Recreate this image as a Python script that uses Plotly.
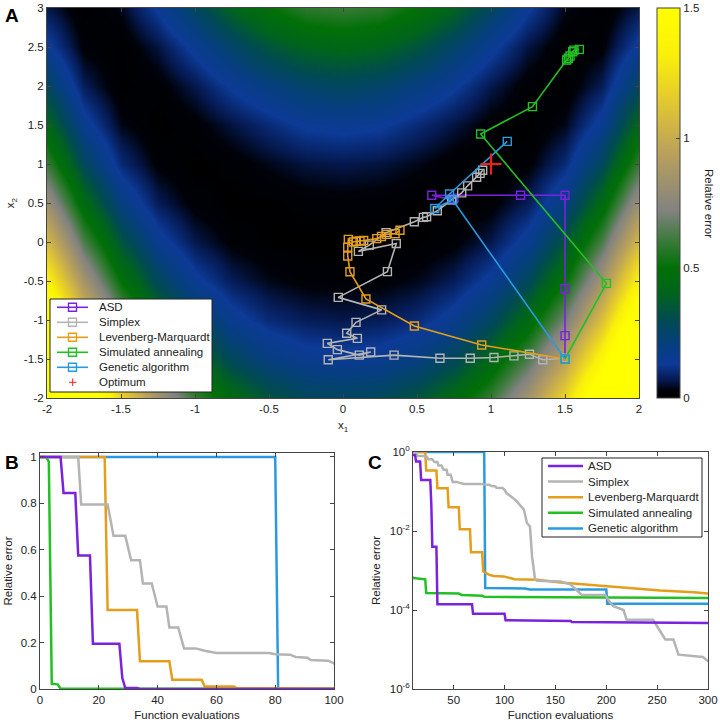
import plotly.graph_objects as go

# ---------------- Panel A : background surface ----------------
GRID_X1 = [-2, -1.75, -1.5, -1.25, -1, -0.75, -0.5, -0.25, 0, 0.25, 0.5, 0.75, 1, 1.25, 1.5, 1.75, 2]
GRID_X2 = [-2, -1.5, -1, -0.5, 0, 0.5, 1, 1.5, 2, 2.5, 3]
GRID_ERR = [
    [2.4, 1.71, 1.2, 0.85, 0.6, 0.44, 0.34, 0.28, 0.27, 0.28, 0.34, 0.44, 0.6, 0.85, 1.2, 1.71, 2.4],
    [2.02, 1.39, 0.94, 0.63, 0.42, 0.28, 0.2, 0.16, 0.15, 0.16, 0.2, 0.28, 0.42, 0.63, 0.94, 1.39, 2.02],
    [1.67, 1.1, 0.7, 0.44, 0.27, 0.16, 0.1, 0.075, 0.067, 0.075, 0.1, 0.16, 0.27, 0.44, 0.7, 1.1, 1.67],
    [1.35, 0.85, 0.5, 0.28, 0.15, 0.075, 0.038, 0.021, 0.017, 0.021, 0.038, 0.075, 0.15, 0.28, 0.5, 0.85, 1.35],
    [1.07, 0.63, 0.34, 0.16, 0.067, 0.021, 0.004, 0.0003, 0, 0.0003, 0.004, 0.021, 0.067, 0.16, 0.34, 0.63, 1.07],
    [0.82, 0.44, 0.2, 0.075, 0.017, 0.0003, 0.004, 0.013, 0.017, 0.013, 0.004, 0.0003, 0.017, 0.075, 0.2, 0.44, 0.82],
    [0.6, 0.28, 0.1, 0.021, 0, 0.013, 0.038, 0.059, 0.067, 0.059, 0.038, 0.013, 0, 0.021, 0.1, 0.28, 0.6],
    [0.42, 0.16, 0.038, 0.0003, 0.017, 0.059, 0.1, 0.14, 0.15, 0.14, 0.1, 0.059, 0.017, 0.0003, 0.038, 0.16, 0.42],
    [0.27, 0.075, 0.004, 0.013, 0.067, 0.14, 0.2, 0.25, 0.27, 0.25, 0.2, 0.14, 0.067, 0.013, 0.004, 0.075, 0.27],
    [0.15, 0.021, 0.004, 0.059, 0.15, 0.25, 0.34, 0.4, 0.42, 0.4, 0.34, 0.25, 0.15, 0.059, 0.004, 0.021, 0.15],
    [0.067, 0.0003, 0.038, 0.14, 0.27, 0.4, 0.5, 0.58, 0.6, 0.58, 0.5, 0.4, 0.27, 0.14, 0.038, 0.0003, 0.067],
]

# ---------------- Panel A : optimisation paths ----------------
ASD_X1 = [1.5, 1.5, 1.5, 1.5, 1.2, 0.6, 0.74, 0.75]
ASD_X2 = [-1.5, -1.2, -0.6, 0.6, 0.6, 0.6, 0.54, 0.56]

SIMPLEX_X1 = [1.5, 1.35, 1.26, 1.155, 1.02, 0.86, 0.655, 0.345, -0.10, 0.187, 0.11, -0.038, -0.106,
              0.097, 0.025, 0.088, 0.261, -0.032, 0.30, 0.36, 0.104, 0.178, 0.291, 0.482, 0.543,
              0.565, 0.637, 0.734, 0.802, 0.842, 0.903, 0.926, 0.944]
SIMPLEX_X2 = [-1.49, -1.51, -1.44, -1.46, -1.48, -1.49, -1.49, -1.45, -1.51, -1.41, -1.45, -1.38, -1.30,
              -1.235, -1.17, -1.03, -0.87, -0.71, -0.38, -0.02, -0.12, -0.04, 0.12, 0.26, 0.316,
              0.324, 0.40, 0.54, 0.63, 0.72, 0.83, 0.88, 0.92]

LM_X1 = [1.5, 0.937, 0.482, 0.155, 0.047, 0.032, 0.032, 0.036, 0.07, 0.09, 0.115, 0.14, 0.228, 0.26, 0.295, 0.352, 0.385]
LM_X2 = [-1.5, -1.32, -1.077, -0.731, -0.381, -0.179, -0.068, 0.034, 0.0, 0.01, 0.013, 0.02, 0.043, 0.07, 0.098, 0.107, 0.15]

SA_X1 = [1.5, 1.78, 0.93, 1.28, 1.511, 1.522, 1.534, 1.552, 1.561, 1.597]
SA_X2 = [-1.5, -0.53, 1.385, 1.735, 2.333, 2.355, 2.385, 2.44, 2.46, 2.47]

GA_X1 = [1.5, 0.74, 0.62, 0.72, 1.11]
GA_X2 = [-1.5, 0.54, 0.43, 0.615, 1.29]

OPT_X1 = [1.0]
OPT_X2 = [1.0]

# ---------------- Panels B and C : relative error vs function evaluations ----------------
ASD_EVALS = [0, 7, 8, 12, 13, 17, 18, 27, 28, 29, 33, 34, 68, 69, 100, 101, 165, 166, 300]
ASD_ERR = [1, 1, 0.845, 0.845, 0.575, 0.575, 0.195, 0.195, 0.047, 0.004, 0.004, 1.4e-4, 1.4e-4,
           8e-5, 8e-5, 5.5e-5, 5.3e-5, 5e-5, 4.7e-5]

SIMPLEX_EVALS = [0, 13, 14, 23, 25, 29, 31, 34, 35, 38, 40, 43, 44, 47, 49, 53, 56, 58, 60, 78, 80, 85,
                 87, 91, 92, 98, 100, 102, 108, 112, 116, 119, 122, 125, 127, 130, 132, 155, 165, 176,
                 199, 202, 207, 217, 220, 246, 251, 258, 266, 271, 295, 300]
SIMPLEX_ERR = [1, 1, 0.795, 0.795, 0.66, 0.66, 0.555, 0.555, 0.455, 0.455, 0.355, 0.355, 0.265, 0.265,
               0.175, 0.175, 0.165, 0.16, 0.155, 0.155, 0.15, 0.148, 0.138, 0.135, 0.125, 0.122, 0.11,
               0.09, 0.07, 0.056, 0.042, 0.035, 0.016, 0.013, 2.3e-3, 5.9e-4, 5.5e-4, 5.3e-4, 4.4e-4,
               2.4e-4, 2.4e-4, 1.8e-4, 1.25e-4, 1.0e-4, 5.7e-5, 5.7e-5, 3.5e-5, 1.8e-5, 1.8e-5,
               7.4e-6, 6.5e-6, 5e-6]

LM_EVALS = [0, 22, 23, 33, 34, 44, 45, 55, 56, 66, 67, 78, 79, 84, 89, 99, 110, 132, 155, 188, 220, 253, 286, 300]
LM_ERR = [1, 1, 0.34, 0.34, 0.12, 0.12, 0.04, 0.04, 0.011, 0.011, 2.9e-3, 2.9e-3, 9.5e-4, 8e-4,
          7.3e-4, 7.1e-4, 6e-4, 5.8e-4, 5e-4, 4.2e-4, 3.6e-4, 3.1e-4, 2.8e-4, 2.6e-4]

SA_EVALS = [0, 2, 3, 4, 6, 7, 10, 22, 23, 55, 58, 78, 80, 300]
SA_ERR = [1, 1, 0.98, 0.022, 0.02, 8e-4, 6.5e-4, 6e-4, 2.7e-4, 2.6e-4, 2.4e-4, 2.3e-4, 2.15e-4, 2e-4]

GA_EVALS = [0, 80, 81, 120, 125, 200, 201, 300]
GA_ERR = [1, 1, 3.6e-4, 3.5e-4, 3.3e-4, 3.3e-4, 1.45e-4, 1.45e-4]

NAMES = ["ASD", "Simplex", "Levenberg-Marquardt", "Simulated annealing", "Genetic algorithm"]
OPT_NAME = "Optimum"
COLORS = ["#7B22DD", "#B4B4B4", "#E49E1C", "#22C022", "#2A9AE0"]
OPT_COLOR = "#FF1A1A"

COLORSCALE = [
    [0.0, "rgb(0,0,0)"],
    [0.02, "rgb(0,2,10)"],
    [0.047, "rgb(5,26,82)"],
    [0.087, "rgb(12,58,150)"],
    [0.133, "rgb(6,62,128)"],
    [0.2, "rgb(0,74,82)"],
    [0.267, "rgb(0,100,28)"],
    [0.333, "rgb(0,112,6)"],
    [0.4, "rgb(55,122,55)"],
    [0.48, "rgb(130,130,128)"],
    [0.633, "rgb(187,162,90)"],
    [0.767, "rgb(228,202,45)"],
    [0.88, "rgb(250,240,10)"],
    [1.0, "rgb(255,255,0)"],
]

W, H = 720, 724
FONT = "Liberation Sans, Arial, sans-serif"
FS = 11.5
AXC = "#444444"
TXT = "#222222"


def px(v):
    return v / W


def py(v):
    return 1 - v / H


fig = go.Figure()

fig.add_trace(go.Heatmap(
    x=GRID_X1, y=GRID_X2, z=GRID_ERR, zsmooth="best", zmin=0, zmax=1.5,
    colorscale=COLORSCALE, xaxis="x", yaxis="y", hoverinfo="skip",
    colorbar=dict(
        x=px(657), xanchor="left", y=py(8), yanchor="top",
        len=390 / H, lenmode="fraction", thickness=23, thicknessmode="pixels",
        xpad=0, ypad=0, outlinewidth=1, outlinecolor=AXC,
        tickvals=[0, 0.5, 1, 1.5], ticktext=["0", "0.5", "1", "1.5"],
        ticks="inside", ticklen=4, tickcolor=AXC,
        tickfont=dict(family=FONT, size=FS, color=TXT),
    ),
))

paths = [(ASD_X1, ASD_X2), (SIMPLEX_X1, SIMPLEX_X2), (LM_X1, LM_X2), (SA_X1, SA_X2), (GA_X1, GA_X2)]
for (xs, ys), name, col in zip(paths, NAMES, COLORS):
    fig.add_trace(go.Scatter(
        x=xs, y=ys, mode="lines+markers", name=name, xaxis="x", yaxis="y",
        line=dict(color=col, width=1.6), showlegend=False,
        marker=dict(symbol="square-open", size=8, color=col, line=dict(width=1.4, color=col)),
    ))
fig.add_trace(go.Scatter(
    x=OPT_X1, y=OPT_X2, mode="markers", name=OPT_NAME, xaxis="x", yaxis="y", showlegend=False,
    marker=dict(symbol="cross-thin", size=15, color=OPT_COLOR, line=dict(width=2.2, color=OPT_COLOR)),
))

series = [(ASD_EVALS, ASD_ERR), (SIMPLEX_EVALS, SIMPLEX_ERR), (LM_EVALS, LM_ERR),
          (SA_EVALS, SA_ERR), (GA_EVALS, GA_ERR)]
draw_order = [4, 3, 2, 1, 0]
for axn in ("2", "3"):
    for i in draw_order:
        xs, ys = series[i]
        fig.add_trace(go.Scatter(x=xs, y=ys, mode="lines", name=NAMES[i], xaxis="x" + axn, yaxis="y" + axn,
                                 line=dict(color=COLORS[i], width=2.5), showlegend=False))

# ---------------- hand-drawn legends (compact MATLAB-style spacing) ----------------
shapes = []
annotations = []

# legend of panel A
shapes.append(dict(type="rect", xref="paper", yref="paper", x0=px(50), x1=px(212), y0=py(392), y1=py(299),
                   fillcolor="white", line=dict(color="#222", width=1), layer="above"))
for i, (name, col) in enumerate(zip(NAMES + [OPT_NAME], COLORS + [OPT_COLOR])):
    yc = 307.3 + 15 * i
    if name != OPT_NAME:
        shapes.append(dict(type="line", xref="paper", yref="paper", x0=px(57), x1=px(88), y0=py(yc), y1=py(yc),
                           line=dict(color=col, width=1.6), layer="above"))
        shapes.append(dict(type="rect", xref="paper", yref="paper", x0=px(68.5), x1=px(76.5),
                           y0=py(yc + 4), y1=py(yc - 4), line=dict(color=col, width=1.4),
                           fillcolor="rgba(0,0,0,0)", layer="above"))
    else:
        shapes.append(dict(type="line", xref="paper", yref="paper", x0=px(69), x1=px(76.5), y0=py(yc), y1=py(yc),
                           line=dict(color=col, width=1), layer="above"))
        shapes.append(dict(type="line", xref="paper", yref="paper", x0=px(72.7), x1=px(72.7),
                           y0=py(yc - 3.8), y1=py(yc + 3.8), line=dict(color=col, width=1), layer="above"))
    annotations.append(dict(text=name, x=px(97), y=py(yc), xref="paper", yref="paper", xanchor="left",
                            yanchor="middle", showarrow=False, font=dict(family=FONT, size=FS, color=TXT)))

# legend of panel C
shapes.append(dict(type="rect", xref="paper", yref="paper", x0=px(542), x1=px(702), y0=py(537), y1=py(458),
                   fillcolor="white", line=dict(color="#222", width=1), layer="above"))
for i, (name, col) in enumerate(zip(NAMES, COLORS)):
    yc = 466 + 15.6 * i
    shapes.append(dict(type="line", xref="paper", yref="paper", x0=px(548), x1=px(583), y0=py(yc), y1=py(yc),
                       line=dict(color=col, width=2.5), layer="above"))
    annotations.append(dict(text=name, x=px(586), y=py(yc), xref="paper", yref="paper", xanchor="left",
                            yanchor="middle", showarrow=False, font=dict(family=FONT, size=FS, color=TXT)))

for letter, lx, ly in (("A", 3, 3), ("B", 3, 450), ("C", 366, 450)):
    annotations.append(dict(text=f"<b>{letter}</b>", x=px(lx), y=py(ly), xref="paper", yref="paper",
                            xanchor="left", yanchor="top", showarrow=False,
                            font=dict(family=FONT, size=19, color="black")))
annotations.append(dict(text="Relative error", x=px(709), y=py(203), xref="paper", yref="paper",
                        xanchor="center", yanchor="middle", textangle=90, showarrow=False,
                        font=dict(family=FONT, size=FS, color=TXT)))

tickfont = dict(family=FONT, size=FS, color=TXT)
common = dict(showline=True, linecolor=AXC, linewidth=1, mirror="ticks", ticks="inside",
              ticklen=4, tickcolor=AXC, tickfont=tickfont, showgrid=False, zeroline=False,
              automargin=False)
tfont = dict(family=FONT, size=FS, color=TXT)

A_TICKS_X = [-2, -1.5, -1, -0.5, 0, 0.5, 1, 1.5, 2]
A_TICKS_Y = [-2, -1.5, -1, -0.5, 0, 0.5, 1, 1.5, 2, 2.5, 3]

fig.update_layout(
    width=W, height=H, margin=dict(l=0, r=0, t=0, b=0, autoexpand=False),
    paper_bgcolor="white", plot_bgcolor="white",
    font=dict(family=FONT, size=FS, color=TXT),
    showlegend=False,
    xaxis=dict(domain=[px(47), px(639)], range=[-2, 2], anchor="y",
               tickvals=A_TICKS_X, ticktext=[f"{v:g}" for v in A_TICKS_X],
               title=dict(text="x<sub>1</sub>", standoff=7, font=tfont), **common),
    yaxis=dict(domain=[py(398), py(8)], range=[-2, 3], anchor="x",
               tickvals=A_TICKS_Y, ticktext=[f"{v:g}" for v in A_TICKS_Y],
               title=dict(text="x<sub>2</sub>", standoff=6, font=tfont), **common),
    xaxis2=dict(domain=[px(40), px(334)], range=[0, 100], anchor="y2",
                tickvals=[0, 20, 40, 60, 80, 100],
                title=dict(text="Function evaluations", standoff=6, font=tfont), **common),
    yaxis2=dict(domain=[py(689), py(453)], range=[0, 1.017], anchor="x2",
                tickvals=[0, 0.2, 0.4, 0.6, 0.8, 1], ticktext=["0", "0.2", "0.4", "0.6", "0.8", "1"],
                title=dict(text="Relative error", standoff=5, font=tfont), **common),
    xaxis3=dict(domain=[px(413), px(708)], range=[10, 300], anchor="y3",
                tickvals=[50, 100, 150, 200, 250, 300],
                title=dict(text="Function evaluations", standoff=6, font=tfont), **common),
    yaxis3=dict(domain=[py(689), py(452)], type="log", range=[-6, 0], anchor="x3",
                tickvals=[1, 1e-2, 1e-4, 1e-6],
                ticktext=["10<sup>0</sup>", "10<sup>-2</sup>", "10<sup>-4</sup>", "10<sup>-6</sup>"],
                title=dict(text="Relative error", standoff=6, font=tfont), **common),
    shapes=shapes,
    annotations=annotations,
)

# the page's default 8px body margin would shift the whole figure; remove it
fig.write_html("out.html", config={"displayModeBar": False},
               post_script="document.body.style.margin='0px';")
